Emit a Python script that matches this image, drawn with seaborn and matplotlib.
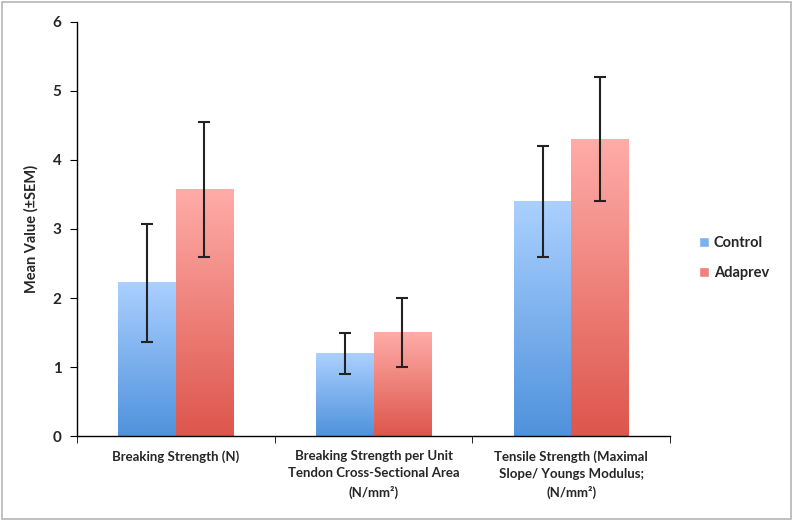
import numpy as np
import pandas as pd
import matplotlib
matplotlib.use("Agg")
import matplotlib.pyplot as plt
import seaborn as sns
from matplotlib.colors import to_rgb
from matplotlib.patches import Rectangle

# values
categories = ["Breaking Strength (N)",
              "Breaking Strength per Unit\nTendon Cross-Sectional Area\n(N/mm²)",
              "Tensile Strength (Maximal\nSlope/ Youngs Modulus;\n(N/mm²)"]
groups = ["Control", "Adaprev"]
control_mean = [2.22, 1.20, 3.40]
control_sem = [0.85, 0.30, 0.80]
adaprev_mean = [3.57, 1.50, 4.30]
adaprev_sem = [0.98, 0.50, 0.90]

# top (light) and bottom (dark) colours of the gradient fill
top_colors = {"Control": "#abd0ff", "Adaprev": "#ffaca8"}
bottom_colors = {"Control": "#4f92dc", "Adaprev": "#dd564c"}

df = pd.DataFrame({
    "category": categories * 2,
    "group": ["Control"] * 3 + ["Adaprev"] * 3,
    "mean": control_mean + adaprev_mean,
    "sem": control_sem + adaprev_sem,
})

sns.set_style("white")
plt.rcParams["font.family"] = ["Lato", "DejaVu Sans"]
plt.rcParams["font.weight"] = "bold"

fig = plt.figure(figsize=(7.93, 5.21), dpi=100)
ax = fig.add_axes([0.097, 0.163, 0.748, 0.795])

sns.barplot(data=df, x="category", y="mean", hue="group", order=categories,
            hue_order=groups, palette=bottom_colors, width=0.58, errorbar=None,
            ax=ax, legend=False)

# gradient fill + error bars
for cont, g in zip(ax.containers, groups):
    sems = df[df.group == g]["sem"].values
    c_top = np.array(to_rgb(top_colors[g]))
    c_bot = np.array(to_rgb(bottom_colors[g]))
    t = np.linspace(0, 1, 256)[:, None]
    grad = (c_top * (1 - t) + c_bot * t)[:, None, :]
    for bar, s in zip(cont, sems):
        x0, w, h = bar.get_x(), bar.get_width(), bar.get_height()
        bar.set_facecolor("none")
        bar.set_edgecolor("none")
        ax.imshow(grad, extent=[x0, x0 + w, 0, h], origin="upper",
                  aspect="auto", zorder=1)
        ax.errorbar(x0 + w / 2, h, yerr=s, fmt="none", ecolor="#222222",
                    elinewidth=1.5, capsize=4, capthick=1.5, zorder=3)

ax.set_xlim(-0.5, 2.5)
ax.set_ylim(0, 6)
ax.set_yticks(range(7))
ax.set_xlabel("")
ax.set_ylabel("Mean Value (±SEM)", fontsize=10.5, fontweight="bold", labelpad=10)

for s in ["top", "right"]:
    ax.spines[s].set_visible(False)
for s in ["left", "bottom"]:
    ax.spines[s].set_color("black")
    ax.spines[s].set_linewidth(1)

ax.tick_params(axis="y", direction="out", length=5, left=True, labelsize=11,
               color="black", pad=6)
ax.tick_params(axis="x", which="major", length=0, labelsize=9.5, pad=10)
ax.set_xticks([-0.5, 0.5, 1.5, 2.5], minor=True)
ax.tick_params(axis="x", which="minor", direction="out", length=5,
               bottom=True, color="black")
for lbl in ax.get_xticklabels() + ax.get_yticklabels():
    lbl.set_fontweight("bold")
for lbl in ax.get_xticklabels():
    lbl.set_linespacing(1.55)

handles = [Rectangle((0, 0), 1, 1, facecolor=(np.array(to_rgb(top_colors[g])) +
                                              np.array(to_rgb(bottom_colors[g]))) / 2)
           for g in groups]
leg = fig.legend(handles, groups, loc="center left",
                 bbox_to_anchor=(0.865, 0.505), frameon=False,
                 prop={"weight": "bold", "size": 10.5},
                 handlelength=0.7, handleheight=0.7, handletextpad=0.3,
                 labelspacing=1.1)

# outer grey frame like the original
fig.patches.append(Rectangle((0.003, 0.004), 0.994, 0.992, transform=fig.transFigure,
                             fill=False, edgecolor="#b5b5b5", linewidth=1.2))

fig.savefig("out.png", dpi=100)
